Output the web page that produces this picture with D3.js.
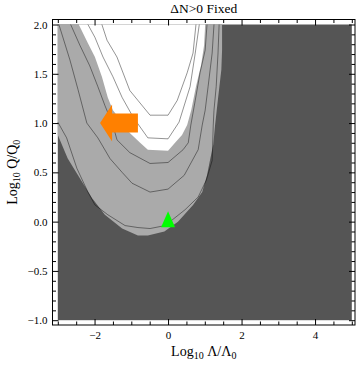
<!DOCTYPE html>
<html>
<head>
<meta charset="utf-8">
<script src="https://cdn.jsdelivr.net/npm/d3@7"></script>
<style>
  body { margin: 0; background: #fff; }
  svg text { font-family: "Liberation Serif", "Times New Roman", serif; }
</style>
</head>
<body>
<div id="chart"></div>
<script>
// axis ticks
var xTicks = [-2, 0, 2, 4]
var yTicks = [-1, -0.5, 0, 0.5, 1, 1.5, 2]

// outer edge of the light grey band (points in log10 units)
var outerEdge = [
  [-3, 0.88], [-2.73, 0.64], [-2.4, 0.44], [-2.07, 0.24], [-1.72, 0.07],
  [-1.25, -0.07], [-0.82, -0.14], [-0.55, -0.14], [-0.1, -0.1], [0.27, 0.0],
  [0.68, 0.17], [0.93, 0.3], [1.06, 0.47], [1.15, 0.64], [1.23, 0.78],
  [1.28, 0.98], [1.36, 1.25], [1.45, 1.54], [1.47, 1.74], [1.47, 2.0]
]

// edge of the white (inner) region
var innerEdge = [
  [-2.43, 2.0], [-2.18, 1.81], [-1.99, 1.67], [-1.8, 1.47], [-1.64, 1.26],
  [-1.5, 1.13], [-1.25, 1.01], [-1.04, 0.9], [-0.76, 0.8], [-0.55, 0.73],
  [0, 0.72], [0.19, 0.8], [0.38, 0.88], [0.52, 0.98], [0.63, 1.13],
  [0.76, 1.37], [0.9, 1.59], [0.98, 1.79], [1.01, 2.0]
]

// contour lines inside the grey band
var contour1 = [
  [-3, 1.01], [-2.76, 0.85], [-2.48, 0.54], [-2.18, 0.3], [-1.99, 0.17],
  [-1.64, 0.07], [-1.17, -0.04], [-0.82, -0.06], [-0.49, -0.07], [-0.08, -0.04],
  [0.46, 0.12], [0.82, 0.25], [1.04, 0.42], [1.2, 0.62], [1.23, 0.98],
  [1.25, 1.13], [1.31, 1.37], [1.36, 1.71], [1.39, 2.0]
]
var contour2 = [
  [-2.97, 2.0], [-2.67, 1.64], [-2.45, 1.34], [-2.21, 1.0], [-1.91, 0.85],
  [-1.58, 0.64], [-1.25, 0.5], [-0.98, 0.39], [-0.49, 0.3], [0, 0.33],
  [0.44, 0.47], [0.82, 0.73], [0.93, 0.98], [1.01, 1.13], [1.09, 1.37],
  [1.2, 1.71], [1.25, 2.0]
]
var contour3 = [
  [-2.65, 2.0], [-2.4, 1.79], [-2.13, 1.58], [-1.91, 1.37], [-1.72, 1.18],
  [-1.5, 0.98], [-1.39, 0.83], [-1.04, 0.7], [-0.49, 0.59], [0, 0.6],
  [0.41, 0.73], [0.55, 0.8], [0.62, 0.98], [0.74, 1.23], [0.87, 1.51],
  [1.01, 1.74], [1.06, 2.0]
]
// contour lines inside the white region
var contour4 = [
  [-2.18, 2.0], [-1.99, 1.87], [-1.77, 1.67], [-1.5, 1.47], [-1.25, 1.26],
  [-0.95, 1.06], [-0.55, 0.85], [0, 0.84], [0.3, 1.01], [0.6, 1.37],
  [0.74, 1.71], [0.85, 2.0]
]
var contour5 = [
  [-1.8, 2.0], [-1.66, 1.84], [-1.39, 1.67], [-1.04, 1.33], [-0.82, 1.23],
  [-0.49, 1.08], [0, 1.08], [0.25, 1.23], [0.52, 1.51], [0.68, 1.71],
  [0.76, 2.0]
]

// arrow (tip and tail) and the marked point
var arrowTip = [-1.85, 1.0]
var arrowTail = [-0.82, 1.0]
var markPoint = [0, 0]

var width = 360, height = 367
var frame = { left: 52.5, right: 355, top: 19.5, bottom: 325 }

var svg = d3.select('#chart').append('svg')
  .attr('width', width)
  .attr('height', height)

var x = d3.scaleLinear().domain([-3, 5]).range([57.8, 351.8])
var y = d3.scaleLinear().domain([-1, 2]).range([320.2, 24.5])

var line = d3.line()
  .x(function (d) { return x(d[0]) })
  .y(function (d) { return y(d[1]) })

// dark background of the plot region
svg.append('rect')
  .attr('x', x(-3)).attr('y', y(2))
  .attr('width', x(5) - x(-3)).attr('height', y(-1) - y(2))
  .attr('fill', '#555555')

// light grey band, closed along the top and left edges
svg.append('path')
  .attr('d', line(outerEdge.concat([[-3, 2]])) + 'Z')
  .attr('fill', '#aaaaaa')

// white inner region, closed along the top edge
svg.append('path')
  .attr('d', line(innerEdge) + 'Z')
  .attr('fill', '#ffffff')

// contour lines
;[contour1, contour2, contour3, contour4, contour5].forEach(function (c) {
  svg.append('path')
    .attr('d', line(c))
    .attr('fill', 'none')
    .attr('stroke', '#000')
    .attr('stroke-opacity', 0.42)
    .attr('stroke-width', 1)
})

// orange arrow pointing left
var tx = x(arrowTip[0]), ty = y(arrowTip[1]), ex = x(arrowTail[0])
var headLen = 12, headHalf = 18.5, shaftHalf = 9.5
svg.append('path')
  .attr('d', d3.line()([
    [tx, ty], [tx + headLen, ty - headHalf], [tx + headLen, ty - shaftHalf],
    [ex, ty - shaftHalf], [ex, ty + shaftHalf], [tx + headLen, ty + shaftHalf],
    [tx + headLen, ty + headHalf]
  ]) + 'Z')
  .attr('fill', '#ff8000')

// green triangle marker
var mx = x(markPoint[0]), my = y(markPoint[1])
svg.append('path')
  .attr('d', d3.line()([[mx, my - 10.5], [mx + 7, my + 5.5], [mx - 7, my + 5.5]]) + 'Z')
  .attr('fill', '#00ff00')

// frame
svg.append('rect')
  .attr('x', frame.left).attr('y', frame.top)
  .attr('width', frame.right - frame.left).attr('height', frame.bottom - frame.top)
  .attr('fill', 'none').attr('stroke', '#000').attr('stroke-width', 1)

var xMinor = d3.range(-3, 5.01, 0.5).filter(function (v) { return xTicks.indexOf(v) < 0 })
var yMinor = d3.range(-10, 20.1, 1).map(function (v) { return v / 10 })
  .filter(function (v) { return yTicks.indexOf(v) < 0 })

function styleAxis(g) {
  g.select('.domain').remove()
  g.selectAll('line').attr('stroke', '#000')
  g.selectAll('text').attr('font-size', 11).attr('fill', '#000')
    .style('font-family', '"Liberation Serif", serif')
}

// bottom axis with labels, top axis mirrored
svg.append('g').attr('transform', 'translate(0,' + frame.bottom + ')')
  .call(d3.axisBottom(x).tickValues(xTicks).tickSize(-6).tickPadding(6)
    .tickFormat(d3.format('d')))
  .call(styleAxis)
svg.append('g').attr('transform', 'translate(0,' + frame.bottom + ')')
  .call(d3.axisBottom(x).tickValues(xMinor).tickSize(-3.5).tickFormat(''))
  .call(styleAxis)
svg.append('g').attr('transform', 'translate(0,' + frame.top + ')')
  .call(d3.axisTop(x).tickValues(xTicks).tickSize(-6).tickFormat(''))
  .call(styleAxis)
svg.append('g').attr('transform', 'translate(0,' + frame.top + ')')
  .call(d3.axisTop(x).tickValues(xMinor).tickSize(-3.5).tickFormat(''))
  .call(styleAxis)

// left axis with labels, right axis mirrored
svg.append('g').attr('transform', 'translate(' + frame.left + ',0)')
  .call(d3.axisLeft(y).tickValues(yTicks).tickSize(-6).tickPadding(5)
    .tickFormat(d3.format('.1f')))
  .call(styleAxis)
svg.append('g').attr('transform', 'translate(' + frame.left + ',0)')
  .call(d3.axisLeft(y).tickValues(yMinor).tickSize(-3.5).tickFormat(''))
  .call(styleAxis)
svg.append('g').attr('transform', 'translate(' + frame.right + ',0)')
  .call(d3.axisRight(y).tickValues(yTicks).tickSize(-6).tickFormat(''))
  .call(styleAxis)
svg.append('g').attr('transform', 'translate(' + frame.right + ',0)')
  .call(d3.axisRight(y).tickValues(yMinor).tickSize(-3.5).tickFormat(''))
  .call(styleAxis)

var cx = (frame.left + frame.right) / 2
var cy = (frame.top + frame.bottom) / 2

// title
svg.append('text')
  .attr('x', cx).attr('y', 12.5)
  .attr('text-anchor', 'middle')
  .attr('font-size', 13.5)
  .text('\u0394N>0 Fixed')

// x label: Log10 Λ/Λ0
var xl = svg.append('text')
  .attr('x', cx).attr('y', 355.5)
  .attr('text-anchor', 'middle')
  .attr('font-size', 14)
xl.append('tspan').text('Log')
xl.append('tspan').attr('font-size', 10).attr('dy', 3).text('10')
xl.append('tspan').attr('dy', -3).text(' \u039B/\u039B')
xl.append('tspan').attr('font-size', 10).attr('dy', 3).text('0')

// y label: Log10 Q/Q0
var yl = svg.append('text')
  .attr('transform', 'translate(17,' + cy + ') rotate(-90)')
  .attr('text-anchor', 'middle')
  .attr('font-size', 14)
yl.append('tspan').text('Log')
yl.append('tspan').attr('font-size', 10).attr('dy', 3).text('10')
yl.append('tspan').attr('dy', -3).text(' Q/Q')
yl.append('tspan').attr('font-size', 10).attr('dy', 3).text('0')
</script>
</body>
</html>
